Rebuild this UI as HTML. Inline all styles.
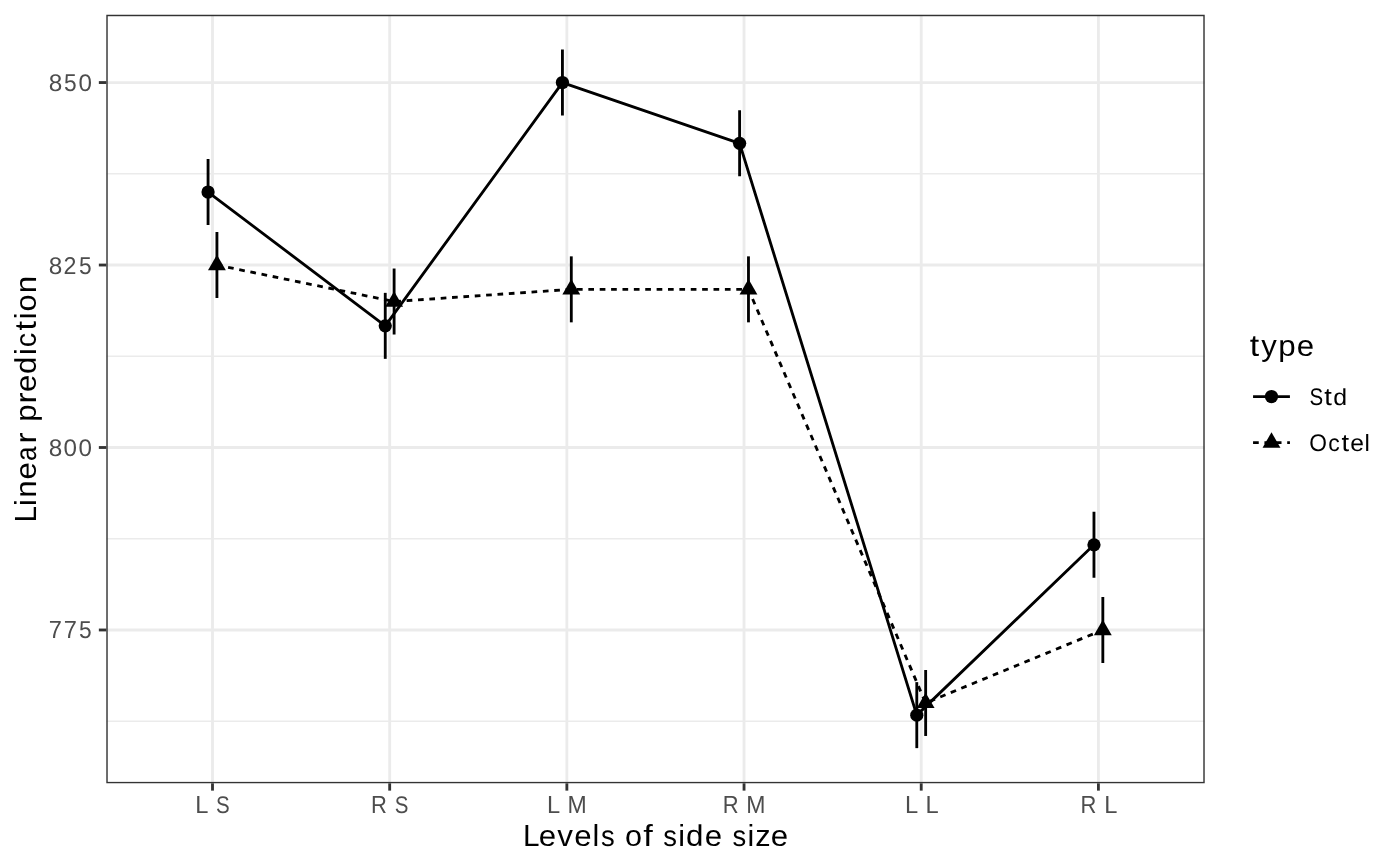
<!DOCTYPE html>
<html lang="en"><head><meta charset="utf-8"><title>plot</title>
<style>html,body{margin:0;padding:0;background:#fff;}svg{display:block;will-change:transform;}text{font-family:"Liberation Sans",sans-serif;text-rendering:geometricPrecision;}</style></head><body>
<svg width="1400" height="866" viewBox="0 0 1400 866">
<rect x="0" y="0" width="1400" height="866" fill="#ffffff"/>
<defs><clipPath id="pc"><rect x="106.3" y="14.8" width="1098.42" height="768.50"/></clipPath></defs>
<g clip-path="url(#pc)">
<line x1="106.3" x2="1204.72" y1="173.79" y2="173.79" stroke="#EBEBEB" stroke-width="1.423"/>
<line x1="106.3" x2="1204.72" y1="356.26" y2="356.26" stroke="#EBEBEB" stroke-width="1.423"/>
<line x1="106.3" x2="1204.72" y1="538.74" y2="538.74" stroke="#EBEBEB" stroke-width="1.423"/>
<line x1="106.3" x2="1204.72" y1="721.21" y2="721.21" stroke="#EBEBEB" stroke-width="1.423"/>
<line x1="106.3" x2="1204.72" y1="82.55" y2="82.55" stroke="#EBEBEB" stroke-width="2.845"/>
<line x1="106.3" x2="1204.72" y1="265.03" y2="265.03" stroke="#EBEBEB" stroke-width="2.845"/>
<line x1="106.3" x2="1204.72" y1="447.50" y2="447.50" stroke="#EBEBEB" stroke-width="2.845"/>
<line x1="106.3" x2="1204.72" y1="629.98" y2="629.98" stroke="#EBEBEB" stroke-width="2.845"/>
<line x1="212.50" x2="212.50" y1="14.8" y2="783.3" stroke="#EBEBEB" stroke-width="2.845"/>
<line x1="389.68" x2="389.68" y1="14.8" y2="783.3" stroke="#EBEBEB" stroke-width="2.845"/>
<line x1="566.86" x2="566.86" y1="14.8" y2="783.3" stroke="#EBEBEB" stroke-width="2.845"/>
<line x1="744.04" x2="744.04" y1="14.8" y2="783.3" stroke="#EBEBEB" stroke-width="2.845"/>
<line x1="921.22" x2="921.22" y1="14.8" y2="783.3" stroke="#EBEBEB" stroke-width="2.845"/>
<line x1="1098.40" x2="1098.40" y1="14.8" y2="783.3" stroke="#EBEBEB" stroke-width="2.845"/>
<line x1="208.07" x2="208.07" y1="159.03" y2="225.03" stroke="#000" stroke-width="2.845"/>
<line x1="216.93" x2="216.93" y1="232.03" y2="298.03" stroke="#000" stroke-width="2.845"/>
<line x1="385.25" x2="385.25" y1="292.85" y2="358.85" stroke="#000" stroke-width="2.845"/>
<line x1="394.11" x2="394.11" y1="268.52" y2="334.52" stroke="#000" stroke-width="2.845"/>
<line x1="562.43" x2="562.43" y1="49.55" y2="115.55" stroke="#000" stroke-width="2.845"/>
<line x1="571.29" x2="571.29" y1="256.35" y2="322.35" stroke="#000" stroke-width="2.845"/>
<line x1="739.61" x2="739.61" y1="110.37" y2="176.37" stroke="#000" stroke-width="2.845"/>
<line x1="748.47" x2="748.47" y1="256.35" y2="322.35" stroke="#000" stroke-width="2.845"/>
<line x1="916.79" x2="916.79" y1="682.13" y2="748.13" stroke="#000" stroke-width="2.845"/>
<line x1="925.65" x2="925.65" y1="669.97" y2="735.97" stroke="#000" stroke-width="2.845"/>
<line x1="1093.97" x2="1093.97" y1="511.82" y2="577.82" stroke="#000" stroke-width="2.845"/>
<line x1="1102.83" x2="1102.83" y1="596.98" y2="662.98" stroke="#000" stroke-width="2.845"/>
<polyline points="208.07,192.03 385.25,325.85 562.43,82.55 739.61,143.37 916.79,715.13 1093.97,544.82" fill="none" stroke="#000" stroke-width="2.845" stroke-linejoin="round"/>
<polyline points="216.93,265.03 394.11,301.52 571.29,289.35 748.47,289.35 925.65,702.97 1102.83,629.98" fill="none" stroke="#000" stroke-width="2.845" stroke-dasharray="5.69 5.69" stroke-linejoin="round"/>
<circle cx="208.07" cy="192.03" r="6.63" fill="#000"/>
<polygon points="216.93,254.71 225.86,270.18 208.00,270.18" fill="#000"/>
<circle cx="385.25" cy="325.85" r="6.63" fill="#000"/>
<polygon points="394.11,291.21 403.04,306.68 385.18,306.68" fill="#000"/>
<circle cx="562.43" cy="82.55" r="6.63" fill="#000"/>
<polygon points="571.29,279.04 580.22,294.51 562.36,294.51" fill="#000"/>
<circle cx="739.61" cy="143.37" r="6.63" fill="#000"/>
<polygon points="748.47,279.04 757.40,294.51 739.54,294.51" fill="#000"/>
<circle cx="916.79" cy="715.13" r="6.63" fill="#000"/>
<polygon points="925.65,692.65 934.58,708.12 916.72,708.12" fill="#000"/>
<circle cx="1093.97" cy="544.82" r="6.63" fill="#000"/>
<polygon points="1102.83,619.66 1111.76,635.13 1093.90,635.13" fill="#000"/>
<rect x="106.3" y="14.8" width="1098.42" height="768.50" fill="none" stroke="#333333" stroke-width="2.845"/>
</g>
<line x1="98.85" x2="106.30" y1="82.55" y2="82.55" stroke="#333333" stroke-width="2.845"/>
<line x1="98.85" x2="106.30" y1="265.03" y2="265.03" stroke="#333333" stroke-width="2.845"/>
<line x1="98.85" x2="106.30" y1="447.50" y2="447.50" stroke="#333333" stroke-width="2.845"/>
<line x1="98.85" x2="106.30" y1="629.98" y2="629.98" stroke="#333333" stroke-width="2.845"/>
<line x1="212.50" x2="212.50" y1="783.3" y2="790.63" stroke="#333333" stroke-width="2.845"/>
<line x1="389.68" x2="389.68" y1="783.3" y2="790.63" stroke="#333333" stroke-width="2.845"/>
<line x1="566.86" x2="566.86" y1="783.3" y2="790.63" stroke="#333333" stroke-width="2.845"/>
<line x1="744.04" x2="744.04" y1="783.3" y2="790.63" stroke="#333333" stroke-width="2.845"/>
<line x1="921.22" x2="921.22" y1="783.3" y2="790.63" stroke="#333333" stroke-width="2.845"/>
<line x1="1098.40" x2="1098.40" y1="783.3" y2="790.63" stroke="#333333" stroke-width="2.845"/>
<g aria-label="850">
<text transform="translate(48.65,90.76) rotate(0.1) scale(0.2433,0.2403)" font-size="100" fill="#4D4D4D">8</text>
<text transform="translate(63.94,90.76) rotate(0.1) scale(0.2271,0.2437)" font-size="100" fill="#4D4D4D">5</text>
<text transform="translate(78.53,90.76) rotate(0.1) scale(0.2419,0.2403)" font-size="100" fill="#4D4D4D">0</text>
</g>
<g aria-label="825">
<text transform="translate(48.65,273.76) rotate(0.1) scale(0.2433,0.2403)" font-size="100" fill="#4D4D4D">8</text>
<text transform="translate(63.58,274.00) rotate(0.1) scale(0.2320,0.2437)" font-size="100" fill="#4D4D4D">2</text>
<text transform="translate(78.88,273.76) rotate(0.1) scale(0.2271,0.2437)" font-size="100" fill="#4D4D4D">5</text>
</g>
<g aria-label="800">
<text transform="translate(48.65,455.76) rotate(0.1) scale(0.2433,0.2403)" font-size="100" fill="#4D4D4D">8</text>
<text transform="translate(63.59,455.76) rotate(0.1) scale(0.2419,0.2403)" font-size="100" fill="#4D4D4D">0</text>
<text transform="translate(78.53,455.76) rotate(0.1) scale(0.2419,0.2403)" font-size="100" fill="#4D4D4D">0</text>
</g>
<g aria-label="775">
<text transform="translate(48.80,638.00) rotate(0.1) scale(0.2359,0.2473)" font-size="100" fill="#4D4D4D">7</text>
<text transform="translate(63.73,638.00) rotate(0.1) scale(0.2359,0.2473)" font-size="100" fill="#4D4D4D">7</text>
<text transform="translate(78.88,637.76) rotate(0.1) scale(0.2271,0.2437)" font-size="100" fill="#4D4D4D">5</text>
</g>
<g aria-label="L S">
<text transform="translate(195.27,813.00) rotate(0.1) scale(0.2359,0.2473)" font-size="100" fill="#4D4D4D">L</text>
<text transform="translate(216.07,812.76) rotate(0.1) scale(0.2050,0.2403)" font-size="100" fill="#4D4D4D">S</text>
</g>
<g aria-label="R S">
<text transform="translate(370.97,813.00) rotate(0.1) scale(0.2197,0.2473)" font-size="100" fill="#4D4D4D">R</text>
<text transform="translate(394.87,812.76) rotate(0.1) scale(0.2050,0.2403)" font-size="100" fill="#4D4D4D">S</text>
</g>
<g aria-label="L M">
<text transform="translate(546.96,813.00) rotate(0.1) scale(0.2359,0.2473)" font-size="100" fill="#4D4D4D">L</text>
<text transform="translate(567.54,813.00) rotate(0.1) scale(0.2302,0.2473)" font-size="100" fill="#4D4D4D">M</text>
</g>
<g aria-label="R M">
<text transform="translate(722.66,813.00) rotate(0.1) scale(0.2197,0.2473)" font-size="100" fill="#4D4D4D">R</text>
<text transform="translate(746.34,813.00) rotate(0.1) scale(0.2302,0.2473)" font-size="100" fill="#4D4D4D">M</text>
</g>
<g aria-label="L L">
<text transform="translate(904.91,813.00) rotate(0.1) scale(0.2359,0.2473)" font-size="100" fill="#4D4D4D">L</text>
<text transform="translate(925.44,813.00) rotate(0.1) scale(0.2359,0.2473)" font-size="100" fill="#4D4D4D">L</text>
</g>
<g aria-label="R L">
<text transform="translate(1080.60,813.00) rotate(0.1) scale(0.2197,0.2473)" font-size="100" fill="#4D4D4D">R</text>
<text transform="translate(1104.24,813.00) rotate(0.1) scale(0.2359,0.2473)" font-size="100" fill="#4D4D4D">L</text>
</g>
<g aria-label="Levels of side size">
<text transform="translate(523.12,846.00) rotate(0.1) scale(0.2965,0.3055)" font-size="100" fill="#000">L</text>
<text transform="translate(538.82,845.71) rotate(0.1) scale(0.3103,0.2922)" font-size="100" fill="#000">e</text>
<text transform="translate(557.30,846.00) rotate(0.1) scale(0.3126,0.3033)" font-size="100" fill="#000">v</text>
<text transform="translate(574.22,845.71) rotate(0.1) scale(0.3103,0.2922)" font-size="100" fill="#000">e</text>
<text transform="translate(592.57,846.00) rotate(0.1) scale(0.3017,0.3034)" font-size="100" fill="#000">l</text>
<text transform="translate(600.99,845.71) rotate(0.1) scale(0.2730,0.2922)" font-size="100" fill="#000">s</text>
<text transform="translate(625.04,845.71) rotate(0.1) scale(0.3056,0.2922)" font-size="100" fill="#000">o</text>
<text transform="translate(643.25,846.00) rotate(0.1) scale(0.3410,0.3045)" font-size="100" fill="#000">f</text>
<text transform="translate(663.19,845.71) rotate(0.1) scale(0.2730,0.2922)" font-size="100" fill="#000">s</text>
<text transform="translate(678.21,846.00) rotate(0.1) scale(0.3017,0.3034)" font-size="100" fill="#000">i</text>
<text transform="translate(686.04,845.70) rotate(0.1) scale(0.3127,0.2993)" font-size="100" fill="#000">d</text>
<text transform="translate(704.67,845.71) rotate(0.1) scale(0.3103,0.2922)" font-size="100" fill="#000">e</text>
<text transform="translate(732.60,845.71) rotate(0.1) scale(0.2730,0.2922)" font-size="100" fill="#000">s</text>
<text transform="translate(747.62,846.00) rotate(0.1) scale(0.3017,0.3034)" font-size="100" fill="#000">i</text>
<text transform="translate(755.19,846.00) rotate(0.1) scale(0.3074,0.3033)" font-size="100" fill="#000">z</text>
<text transform="translate(770.86,845.71) rotate(0.1) scale(0.3103,0.2922)" font-size="100" fill="#000">e</text>
</g>
<g aria-label="Linear prediction">
<text transform="translate(36.00,522.47) rotate(-89.9) scale(0.2965,0.3055)" font-size="100" fill="#000">L</text>
<text transform="translate(36.00,505.94) rotate(-89.9) scale(0.3017,0.3034)" font-size="100" fill="#000">i</text>
<text transform="translate(36.00,497.86) rotate(-89.9) scale(0.3122,0.2977)" font-size="100" fill="#000">n</text>
<text transform="translate(35.71,479.51) rotate(-89.9) scale(0.3103,0.2922)" font-size="100" fill="#000">e</text>
<text transform="translate(35.71,461.10) rotate(-89.9) scale(0.2588,0.2922)" font-size="100" fill="#000">a</text>
<text transform="translate(36.00,443.39) rotate(-89.9) scale(0.3334,0.2977)" font-size="100" fill="#000">r</text>
<text transform="translate(35.87,421.79) rotate(-89.9) scale(0.3127,0.2953)" font-size="100" fill="#000">p</text>
<text transform="translate(36.00,403.39) rotate(-89.9) scale(0.3334,0.2977)" font-size="100" fill="#000">r</text>
<text transform="translate(35.71,392.07) rotate(-89.9) scale(0.3103,0.2922)" font-size="100" fill="#000">e</text>
<text transform="translate(35.70,374.04) rotate(-89.9) scale(0.3127,0.2993)" font-size="100" fill="#000">d</text>
<text transform="translate(36.00,355.10) rotate(-89.9) scale(0.3017,0.3034)" font-size="100" fill="#000">i</text>
<text transform="translate(35.71,347.17) rotate(-89.9) scale(0.2880,0.2922)" font-size="100" fill="#000">c</text>
<text transform="translate(35.77,330.60) rotate(-89.9) scale(0.3381,0.3019)" font-size="100" fill="#000">t</text>
<text transform="translate(36.00,319.33) rotate(-89.9) scale(0.3017,0.3034)" font-size="100" fill="#000">i</text>
<text transform="translate(35.71,311.46) rotate(-89.9) scale(0.3056,0.2922)" font-size="100" fill="#000">o</text>
<text transform="translate(36.00,293.30) rotate(-89.9) scale(0.3122,0.2977)" font-size="100" fill="#000">n</text>
</g>
<g aria-label="type">
<text transform="translate(1249.69,355.77) rotate(0.1) scale(0.3381,0.3019)" font-size="100" fill="#000">t</text>
<text transform="translate(1261.17,355.79) rotate(0.1) scale(0.3095,0.2993)" font-size="100" fill="#000">y</text>
<text transform="translate(1278.33,355.87) rotate(0.1) scale(0.3127,0.2953)" font-size="100" fill="#000">p</text>
<text transform="translate(1296.63,355.71) rotate(0.1) scale(0.3103,0.2922)" font-size="100" fill="#000">e</text>
</g>
<g aria-label="Std">
<text transform="translate(1309.44,404.76) rotate(0.1) scale(0.2050,0.2403)" font-size="100" fill="#000">S</text>
<text transform="translate(1324.33,404.82) rotate(0.1) scale(0.2729,0.2437)" font-size="100" fill="#000">t</text>
<text transform="translate(1333.17,404.77) rotate(0.1) scale(0.2489,0.2313)" font-size="100" fill="#000">d</text>
</g>
<g aria-label="Octel">
<text transform="translate(1309.17,450.76) rotate(0.1) scale(0.2277,0.2403)" font-size="100" fill="#000">O</text>
<text transform="translate(1328.36,450.76) rotate(0.1) scale(0.2291,0.2374)" font-size="100" fill="#000">c</text>
<text transform="translate(1341.54,450.82) rotate(0.1) scale(0.2729,0.2437)" font-size="100" fill="#000">t</text>
<text transform="translate(1350.29,450.76) rotate(0.1) scale(0.2470,0.2374)" font-size="100" fill="#000">e</text>
<text transform="translate(1364.43,451.00) rotate(0.1) scale(0.2414,0.2345)" font-size="100" fill="#000">l</text>
</g>
<line x1="1253.06" x2="1289.92" y1="396.55" y2="396.55" stroke="#000" stroke-width="2.845"/>
<circle cx="1271.49" cy="396.55" r="6.63" fill="#000"/>
<line x1="1253.06" x2="1289.92" y1="442.63" y2="442.63" stroke="#000" stroke-width="2.845" stroke-dasharray="5.69 5.69"/>
<polygon points="1271.49,432.32 1280.42,447.79 1262.56,447.79" fill="#000"/>
</svg></body></html>
